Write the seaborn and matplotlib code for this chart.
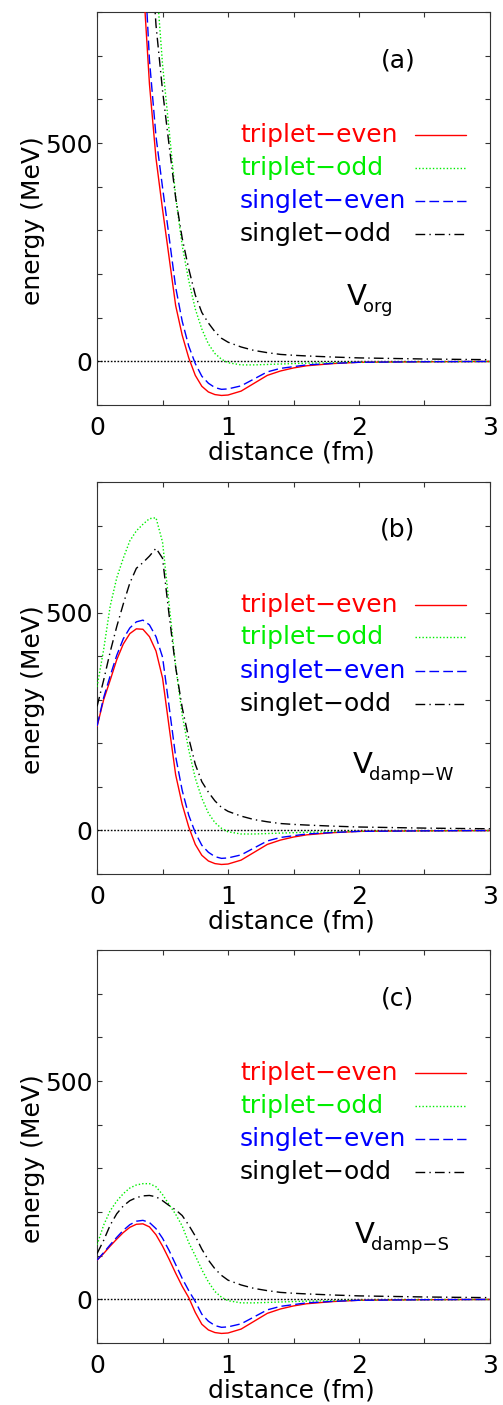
import numpy as np
import pandas as pd
import seaborn as sns
import matplotlib.pyplot as plt
from matplotlib.lines import Line2D
from matplotlib.ticker import MultipleLocator

nan = np.nan

# distance grid (fm)
DISTANCE = [0.00, 0.05, 0.10, 0.15, 0.20, 0.25, 0.30, 0.35, 0.40, 0.45, 0.50,
            0.55, 0.60, 0.65, 0.70, 0.75, 0.80, 0.85, 0.90, 0.95, 1.00,
            1.1, 1.2, 1.3, 1.4, 1.5, 1.6, 1.8, 2.0, 2.2, 2.5, 2.8, 3.0]

CHANNELS = ["triplet−even", "triplet−odd", "singlet−even", "singlet−odd"]
COLORS = {"triplet−even": "#ff0000", "triplet−odd": "#00ee00",
          "singlet−even": "#0000ff", "singlet−odd": "#000000"}
DASHES = {"triplet−even": "", "triplet−odd": (1.0, 1.5),
          "singlet−even": (7, 3), "singlet−odd": (7, 3, 1, 3)}

# (a) V_org  (MeV)
ORG_TE = [nan, nan, nan, nan, nan, nan, nan, 880, 635, 465, 348, 238, 128, 60, 8, -32, -57, -70, -76, -78, -77,
          -68, -50, -32, -22, -15, -10, -5, -2, -1.5, -0.8, -0.4, -0.2]
ORG_TO = [nan, nan, nan, nan, nan, nan, nan, nan, nan, 880, 680, 530, 378, 265, 185, 120, 74, 40, 18, 5, -3,
          -8, -8, -7, -6, -5, -4, -3, -2, -1.5, -1, -0.5, -0.3]
ORG_SE = [nan, nan, nan, nan, nan, nan, nan, 980, 690, 515, 398, 285, 170, 92, 35, -5, -34, -50, -60, -64, -63,
          -56, -40, -24, -16, -12, -8, -4.6, -2, -1.5, -0.8, -0.4, -0.2]
ORG_SO = [nan, nan, nan, nan, nan, nan, nan, nan, 1000, 770, 620, 495, 375, 282, 212, 152, 112, 88, 68, 53, 44,
          33, 25, 20, 16, 14, 12.5, 10, 8, 7, 5.5, 4.5, 4]

# (b) V_damp-W
DW_TE = [239, 300, 345, 392, 428, 452, 463, 462, 445, 412, 350, 238, 128, 60, 8, -32, -57, -70, -76, -78, -77,
         -68, -50, -32, -22, -15, -10, -5, -2, -1.5, -0.8, -0.4, -0.2]
DW_TO = [330, 415, 515, 580, 625, 665, 688, 703, 716, 718, 662, 520, 378, 265, 185, 120, 74, 40, 18, 5, -3,
         -8, -8, -7, -6, -5, -4, -3, -2, -1.5, -1, -0.5, -0.3]
DW_SE = [240, 305, 355, 402, 440, 465, 479, 483, 472, 445, 398, 285, 170, 92, 35, -5, -34, -50, -60, -64, -63,
         -56, -40, -24, -16, -12, -8, -4.6, -2, -1.5, -0.8, -0.4, -0.2]
DW_SO = [285, 345, 410, 468, 520, 568, 602, 615, 630, 648, 625, 495, 375, 282, 212, 152, 112, 88, 68, 53, 44,
         33, 25, 20, 16, 14, 12.5, 10, 8, 7, 5.5, 4.5, 4]

# (c) V_damp-S
DS_TE = [90, 105, 122, 138, 153, 165, 172, 173, 166, 148, 122, 92, 60, 30, 4, -30, -57, -70, -76, -78, -77,
         -68, -50, -32, -22, -15, -10, -5, -2, -1.5, -0.8, -0.4, -0.2]
DS_TO = [125, 170, 203, 225, 242, 255, 262, 265, 265, 258, 240, 217, 195, 168, 130, 100, 68, 40, 18, 5, -3,
         -8, -8, -7, -6, -5, -4, -3, -2, -1.5, -1, -0.5, -0.3]
DS_SE = [90, 107, 125, 142, 158, 171, 179, 181, 176, 162, 140, 112, 80, 48, 20, -5, -34, -50, -60, -64, -63,
         -56, -40, -24, -16, -12, -8, -4.6, -2, -1.5, -0.8, -0.4, -0.2]
DS_SO = [105, 135, 170, 196, 214, 226, 233, 237, 238, 235, 226, 215, 205, 192, 170, 145, 115, 90, 70, 55, 44,
         33, 25, 20, 16, 14, 12.5, 10, 8, 7, 5.5, 4.5, 4]

PANELS = [
    ("(a)", "org", [ORG_TE, ORG_TO, ORG_SE, ORG_SO]),
    ("(b)", "damp−W", [DW_TE, DW_TO, DW_SE, DW_SO]),
    ("(c)", "damp−S", [DS_TE, DS_TO, DS_SE, DS_SO]),
]
# axes rectangles in figure fractions
AX_RECTS = [[0.193, 0.7117, 0.781, 0.2797],
            [0.193, 0.3779, 0.781, 0.2790],
            [0.193, 0.0441, 0.781, 0.2797]]
LEGEND_Y = [0.687, 0.604, 0.519, 0.435]
V_POS = [(0.636, 0.254), (0.652, 0.257), (0.656, 0.254)]

sns.set_theme(style="ticks")
plt.rcParams["font.family"] = ["DejaVu Sans"]
plt.rcParams["text.color"] = "black"
plt.rcParams["axes.labelcolor"] = "black"
plt.rcParams["xtick.color"] = "black"
plt.rcParams["ytick.color"] = "black"

FS = 18

fig = plt.figure(figsize=(5.03, 14.05), dpi=100)

for rect, vpos, (tag, vsub, series) in zip(AX_RECTS, V_POS, PANELS):
    ax = fig.add_axes(rect)
    frames = []
    for name, vals in zip(CHANNELS, series):
        frames.append(pd.DataFrame({"r": DISTANCE, "energy": vals, "channel": name}))
    df = pd.concat(frames, ignore_index=True)

    ax.axhline(0, color="black", lw=1.0, ls=(0, (1.2, 1.2)), zorder=1)
    sns.lineplot(data=df, x="r", y="energy", hue="channel", style="channel",
                 hue_order=CHANNELS, style_order=CHANNELS,
                 palette=COLORS, dashes=DASHES, estimator=None, sort=False,
                 linewidth=1.0, legend=False, ax=ax, zorder=3)

    ax.set_xlim(0, 3)
    ax.set_ylim(-100, 800)
    ax.set_xticks([0, 1, 2, 3])
    ax.xaxis.set_minor_locator(MultipleLocator(0.5))
    ax.set_yticks([0, 500])
    ax.yaxis.set_minor_locator(MultipleLocator(100))
    ax.tick_params(which="both", direction="in", top=True, right=True,
                   length=3.6, width=0.8, color="#333333")
    ax.tick_params(axis="x", labelsize=FS, pad=8)
    ax.tick_params(axis="y", labelsize=FS, pad=3.5)
    for sp in ax.spines.values():
        sp.set_linewidth(0.8)
        sp.set_color("#333333")

    ax.set_xlabel("distance (fm)", fontsize=FS)
    ax.set_ylabel("energy (MeV)", fontsize=FS)
    ax.xaxis.set_label_coords(0.495, -0.09)
    ax.yaxis.set_label_coords(-0.132, 0.47)

    # gnuplot-style key: text first, sample to the right
    for name, y in zip(CHANNELS, LEGEND_Y):
        ax.text(0.364, y, name, color=COLORS[name], fontsize=FS,
                ha="left", va="center", transform=ax.transAxes)
        sample = Line2D([0.81, 0.94], [y, y], transform=ax.transAxes,
                        color=COLORS[name], lw=1.0)
        if DASHES[name]:
            sample.set_dashes(DASHES[name])
        ax.add_line(sample)

    ax.text(0.766, 0.878, tag, fontsize=FS, ha="center", va="center",
            transform=ax.transAxes)
    vt = ax.text(vpos[0], vpos[1], "V", fontsize=21, ha="left", va="baseline",
                 transform=ax.transAxes)
    ax.annotate(vsub, xy=(1, 0), xycoords=vt, xytext=(-4, -1),
                textcoords="offset pixels", fontsize=13, ha="left", va="baseline")

fig.savefig("out.png", dpi=100)
